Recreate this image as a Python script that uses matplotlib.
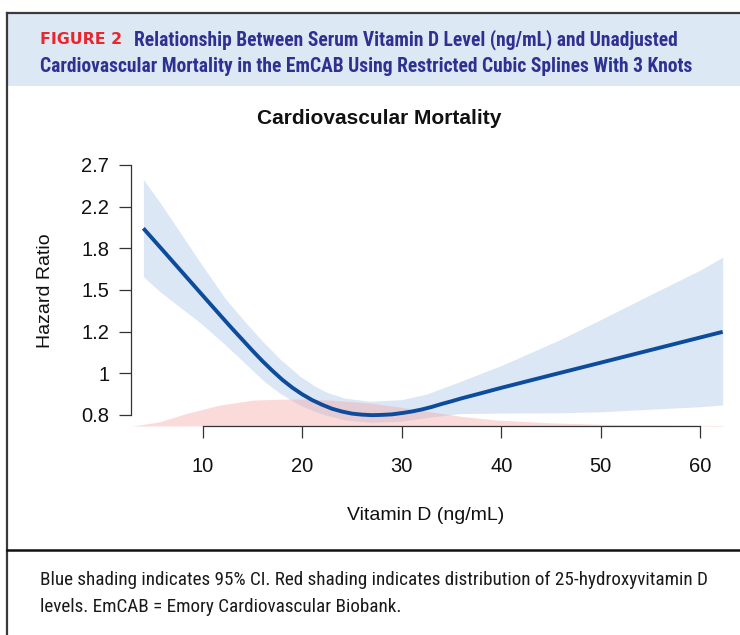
import numpy as np
import matplotlib
matplotlib.use("Agg")
import matplotlib.pyplot as plt
from matplotlib import font_manager as fm
from matplotlib.lines import Line2D
from matplotlib.patches import Rectangle
from matplotlib.ticker import NullLocator

# ---------------- data ----------------
vitd_line = [4.03, 6, 8, 10, 12, 13, 14, 15, 16, 17, 18, 19, 20, 21, 22, 23, 24,
             25, 26, 27, 28, 29, 30, 31, 32, 33, 34, 35, 36, 38, 40, 45, 50, 55,
             60, 62.26]
hr_line = [1.959, 1.762, 1.581, 1.419, 1.274, 1.208, 1.147, 1.089, 1.036, 0.989,
           0.947, 0.912, 0.883, 0.859, 0.840, 0.824, 0.813, 0.805, 0.801, 0.799,
           0.800, 0.802, 0.807, 0.813, 0.821, 0.831, 0.843, 0.854, 0.866, 0.888,
           0.911, 0.968, 1.028, 1.092, 1.160, 1.192]

vitd_ci = [4.03, 5.71, 7.72, 9.73, 12.24, 14.25, 16.09, 17.77, 19.78, 21.29,
           22.46, 24.30, 26.81, 30.0, 32.5, 35.86, 40.05, 45.91, 50.0, 54.95,
           60.0, 62.26]
ci_upper = [2.478, 2.216, 1.922, 1.665, 1.401, 1.251, 1.135, 1.046, 0.963, 0.918,
            0.892, 0.867, 0.854, 0.861, 0.884, 0.939, 1.015, 1.148, 1.264, 1.423,
            1.603, 1.706]
ci_lower = [1.554, 1.445, 1.341, 1.246, 1.121, 1.025, 0.943, 0.887, 0.838, 0.813,
            0.798, 0.781, 0.772, 0.776, 0.790, 0.805, 0.807, 0.808, 0.812, 0.822,
            0.832, 0.839]

vitd_dens = [2.76, 4.0, 5.71, 8.39, 11.74, 15.09, 18.1, 20.0, 22.8, 26.8, 29.8,
             32.9, 36.2, 39.5, 44.6, 49.9, 56.0, 62.26]
dens_top = [0.7585, 0.764, 0.7744, 0.806, 0.839, 0.859, 0.863, 0.863, 0.859, 0.847,
            0.831, 0.8124, 0.7932, 0.7807, 0.7707, 0.7648, 0.7625, 0.7604]

ytick_labels = ["0.8", "1", "1.2", "1.5", "1.8", "2.2", "2.7"]
xticks = [10, 20, 30, 40, 50, 60]

header_fig = "FIGURE 2"
header_l1 = "Relationship Between Serum Vitamin D Level (ng/mL) and Unadjusted"
header_l2 = "Cardiovascular Mortality in the EmCAB Using Restricted Cubic Splines With 3 Knots"
caption_l1 = "Blue shading indicates 95% CI. Red shading indicates distribution of 25-hydroxyvitamin D"
caption_l2 = "levels. EmCAB = Emory Cardiovascular Biobank."

# ---------------- fonts ----------------
names = {f.name for f in fm.fontManager.ttflist}
if "Liberation Sans Narrow" in names:
    narrow = "Liberation Sans Narrow"
elif "Roboto Condensed" in names:
    narrow = "Roboto Condensed"
else:
    narrow = "Roboto"
arial = "Liberation Sans"

W, H = 740, 635
fig = plt.figure(figsize=(W / 100, H / 100), dpi=100)
fig.patch.set_facecolor("white")


def fx(px):
    return px / W


def fy(py):
    return 1 - py / H


renderer = fig.canvas.get_renderer()


def fit_size(s, target_px, **kw):
    t = fig.text(0, 0, s, fontsize=10, **kw)
    w = t.get_window_extent(renderer).width
    t.remove()
    return 10 * target_px / w


# ---------------- frame / header ----------------
fig.patches.append(Rectangle((fx(7), fy(86)), 1 - fx(7), fy(13) - fy(86),
                             transform=fig.transFigure, facecolor="#dde8f5",
                             edgecolor="none", zorder=0))
fig.lines.append(Line2D([fx(7), fx(7)], [fy(13), 0], transform=fig.transFigure,
                        color="#3a3a3a", lw=1.6))
fig.lines.append(Line2D([fx(7), 1], [fy(13), fy(13)], transform=fig.transFigure,
                        color="#3a3a3a", lw=1.6))
fig.lines.append(Line2D([fx(7), 1], [fy(550), fy(550)], transform=fig.transFigure,
                        color="#111111", lw=1.8))

hs = fit_size(header_l2, 654, family=narrow, weight="bold")
fs_fig = fit_size(header_fig, 82, family="DejaVu Sans", weight="bold")
fig.text(fx(40), fy(40), header_fig, family="DejaVu Sans", weight="bold",
         fontsize=fs_fig, color="#e8262d", ha="left", va="center")
fig.text(fx(134), fy(40), header_l1, family=narrow, weight="bold", fontsize=hs,
         color="#2e3192", ha="left", va="center")
fig.text(fx(40), fy(66), header_l2, family=narrow, weight="bold", fontsize=hs,
         color="#2e3192", ha="left", va="center")

cs = fit_size(caption_l1, 667, family=narrow)
fig.text(fx(40), fy(580), caption_l1, family=narrow, fontsize=cs, color="#1a1a1a",
         ha="left", va="center")
fig.text(fx(40), fy(607), caption_l2, family=narrow, fontsize=cs, color="#1a1a1a",
         ha="left", va="center")

# ---------------- chart ----------------
ax = fig.add_axes([fx(130.7), fy(426), 1 - fx(130.7), fy(160) - fy(426)])
ax.set_facecolor("none")
ax.set_yscale("log")
ax.set_xlim(2.76, 10 + (740 - 202.7) / 9.95)
ybot = 0.8 * np.exp(-0.2 * (426 - 414.9) / 41.67)
ytop = 0.8 * np.exp(0.2 * (414.9 - 160) / 41.67)
ax.set_ylim(ybot, ytop)

ax.fill_between(vitd_ci, ci_lower, ci_upper, color="#9ebfe6", alpha=0.36, lw=0, zorder=1)
ax.fill_between(vitd_dens, ybot, dens_top, color="#f5a0a0", alpha=0.38, lw=0, zorder=2)
ax.plot(vitd_line, hr_line, color="#0d4c9c", lw=2.8, solid_capstyle="butt",
        solid_joinstyle="round", zorder=3)

ytick_pos = [0.8 * np.exp(0.2 * k) for k in range(len(ytick_labels))]
ax.set_yticks(ytick_pos)
ax.set_yticklabels(ytick_labels)
ax.yaxis.set_minor_locator(NullLocator())
ax.set_xticks(xticks)
ax.set_xticklabels([str(v) for v in xticks])

for s in ["top", "right"]:
    ax.spines[s].set_visible(False)
ax.spines["left"].set_bounds(ytick_pos[0], ytick_pos[-1])
ax.spines["bottom"].set_bounds(xticks[0], xticks[-1])
for s in ["left", "bottom"]:
    ax.spines[s].set_color("#333333")
    ax.spines[s].set_linewidth(0.9)

ax.tick_params(axis="both", direction="out", length=8.5, width=0.9, color="#333333",
               labelsize=14.5, labelcolor="#111111")
ax.tick_params(axis="x", pad=14)
ax.tick_params(axis="y", pad=7)
for lab in ax.get_xticklabels() + ax.get_yticklabels():
    lab.set_family(arial)

fig.text(fx(379), fy(118), "Cardiovascular Mortality", family=arial, weight="bold",
         fontsize=15, ha="center", va="center", color="#111111")
fig.text(fx(45.5), fy(291), "Hazard Ratio", family=arial, fontsize=14, rotation=90,
         ha="center", va="center", color="#111111")
fig.text(fx(426), fy(515), "Vitamin D (ng/mL)", family=arial, fontsize=14,
         ha="center", va="center", color="#111111")

fig.savefig("out.png", dpi=100)
